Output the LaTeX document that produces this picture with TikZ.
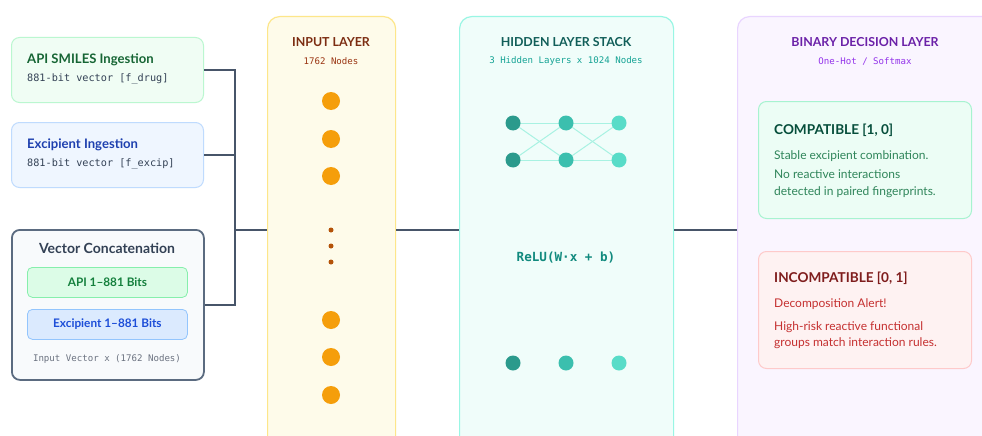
\documentclass[tikz,border=0pt]{standalone}
\usepackage{fontspec}
\setmainfont{Lato}
\setmonofont{DejaVu Sans Mono}
\usetikzlibrary{positioning}

\definecolor{apiFill}{HTML}{F0FDF4}
\definecolor{apiLine}{HTML}{BBF7D0}
\definecolor{apiText}{HTML}{166534}
\definecolor{excFill}{HTML}{EFF6FF}
\definecolor{excLine}{HTML}{BFDBFE}
\definecolor{excText}{HTML}{1E40AF}
\definecolor{catFill}{HTML}{F8FAFC}
\definecolor{catLine}{HTML}{5B6B80}
\definecolor{catText}{HTML}{334155}
\definecolor{catNote}{HTML}{6B7280}
\definecolor{inApiFill}{HTML}{DCFCE7}
\definecolor{inApiLine}{HTML}{86EFAC}
\definecolor{inApiText}{HTML}{15803D}
\definecolor{inExcFill}{HTML}{DBEAFE}
\definecolor{inExcLine}{HTML}{93C5FD}
\definecolor{inExcText}{HTML}{1D4ED8}
\definecolor{wire}{HTML}{475569}
\definecolor{inputFill}{HTML}{FEFBEA}
\definecolor{inputLine}{HTML}{FDE68A}
\definecolor{inputTitle}{HTML}{7C2D12}
\definecolor{inputSub}{HTML}{9A3412}
\definecolor{orangeDot}{HTML}{F59E0B}
\definecolor{brownDot}{HTML}{B45309}
\definecolor{hidFill}{HTML}{F0FDFA}
\definecolor{hidLine}{HTML}{99F6E4}
\definecolor{hidTitle}{HTML}{115E59}
\definecolor{hidSub}{HTML}{14A394}
\definecolor{hidA}{HTML}{2B9A8C}
\definecolor{hidB}{HTML}{3BBFAE}
\definecolor{hidC}{HTML}{58DCC8}
\definecolor{hidEdge}{HTML}{A8F2E2}
\definecolor{decFill}{HTML}{FAF5FF}
\definecolor{decLine}{HTML}{E9D5FF}
\definecolor{decTitle}{HTML}{6B21A8}
\definecolor{decSub}{HTML}{9333EA}
\definecolor{compFill}{HTML}{ECFDF5}
\definecolor{compLine}{HTML}{A7F3D0}
\definecolor{compTitle}{HTML}{064E3B}
\definecolor{compText}{HTML}{2F855A}
\definecolor{incFill}{HTML}{FEF2F2}
\definecolor{incLine}{HTML}{FECACA}
\definecolor{incTitle}{HTML}{7F1D1D}
\definecolor{incText}{HTML}{C53030}

\begin{document}
\begin{tikzpicture}[x=1pt, y=-1pt,
    srcbox/.style={rectangle, rounded corners=8pt, line width=1pt,
        minimum width=192pt, minimum height=65pt, anchor=north west},
    bitbox/.style={rectangle, rounded corners=5pt, line width=0.8pt,
        minimum width=160pt, minimum height=30pt, anchor=north west,
        font=\fontsize{11.8}{14}\selectfont\bfseries},
    layer/.style={rectangle, rounded corners=12pt, line width=1.2pt,
        minimum height=440pt, anchor=north west},
    result/.style={rectangle, rounded corners=8pt, line width=1pt,
        minimum width=213pt, minimum height=117pt, anchor=north west},
    boxtitle/.style={anchor=west, inner sep=0pt, font=\fontsize{13.1}{15}\selectfont\bfseries},
    monosub/.style={anchor=west, inner sep=0pt, font=\fontsize{10.2}{12}\ttfamily},
    coltitle/.style={inner sep=0pt, font=\fontsize{12.4}{14}\selectfont\bfseries},
    colsub/.style={inner sep=0pt, font=\fontsize{9.1}{11}\ttfamily},
    bodytext/.style={anchor=west, inner sep=0pt, text height=8.5pt, text depth=2.5pt,
        font=\fontsize{12}{14}\selectfont},
    neuron/.style={circle, inner sep=0pt, minimum size=18pt, fill=orangeDot},
    smalldot/.style={circle, inner sep=0pt, minimum size=5pt, fill=brownDot},
    hnode/.style={circle, inner sep=0pt, minimum size=15pt},
    wireline/.style={draw=wire, line width=1.5pt}
]
\clip (0,0) rectangle (982,436);
\fill[white] (0,0) rectangle (982,436);

% source boxes
\node (ApiBox) [srcbox, fill=apiFill, draw=apiLine] at (11,37) {};
\node (ApiTitle) [boxtitle, text=apiText] at (27,60) {API SMILES Ingestion};
\node (ApiSub) [monosub, text=catText] at (27,79) {881-bit vector [f\_drug]};

\node (ExcipBox) [srcbox, fill=excFill, draw=excLine] at (11,122) {};
\node (ExcipTitle) [boxtitle, text=excText] at (27,145) {Excipient Ingestion};
\node (ExcipSub) [monosub, text=catText] at (27,164) {881-bit vector [f\_excip]};

\node (Concat) [srcbox, minimum height=150pt, fill=catFill, draw=catLine, line width=1.8pt] at (11,229) {};
\node (ConcatTitle) [inner sep=0pt, font=\fontsize{14}{16}\selectfont\bfseries, text=catText] at (107,248) {Vector Concatenation};
\node (ConcatApi) [bitbox, fill=inApiFill, draw=inApiLine, text=inApiText] at (27,267) {API 1--881 Bits};
\node (ConcatExcip) [bitbox, fill=inExcFill, draw=inExcLine, text=inExcText] at (27,309) {Excipient 1--881 Bits};
\node (ConcatNote) [colsub, text=catNote] at (107,359) {Input Vector x (1762 Nodes)};

% input layer
\node (InputLayer) [layer, minimum width=128pt, fill=inputFill, draw=inputLine] at (267,16) {};
\node (InputTitle) [coltitle, text=inputTitle] at (331,42) {INPUT LAYER};
\node (InputSub) [colsub, text=inputSub] at (331,61) {1762 Nodes};
\foreach \y [count=\i] in {101,139,176,320,357,395}
  \node (In\i) [neuron] at (331,\y) {};
\foreach \y [count=\i] in {230,246,262}
  \node (Dot\i) [smalldot] at (331,\y) {};

% hidden layer stack
\node (Hidden) [layer, minimum width=214pt, fill=hidFill, draw=hidLine] at (459,16) {};
\node (HiddenTitle) [coltitle, text=hidTitle] at (566,42) {HIDDEN LAYER STACK};
\node (HiddenSub) [colsub, text=hidSub] at (566,61) {3 Hidden Layers x 1024 Nodes};
\foreach \p/\q in {513/566,566/619}
  \foreach \s in {123,160}
    \foreach \t in {123,160}
      \draw[hidEdge, line width=1pt] (\p,\s) -- (\q,\t);
\foreach \x/\c [count=\i] in {513/hidA,566/hidB,619/hidC} {
  \node (H\i a) [hnode, fill=\c] at (\x,123) {};
  \node (H\i b) [hnode, fill=\c] at (\x,160) {};
  \node (H\i c) [hnode, fill=\c] at (\x,363) {};
}
\node (Relu) [inner sep=0pt, font=\fontsize{12.6}{14}\ttfamily\bfseries, text=hidSub!85!black] at (566,258) {ReLU(W·x + b)};

% binary decision layer
\node (Decision) [layer, minimum width=280pt, fill=decFill, draw=decLine] at (737,16) {};
\node (DecisionTitle) [coltitle, text=decTitle] at (865,42) {BINARY DECISION LAYER};
\node (DecisionSub) [colsub, text=decSub] at (865,61) {One-Hot / Softmax};

\node (Compatible) [result, fill=compFill, draw=compLine] at (758,101) {};
\node (CompatibleTitle) [boxtitle, font=\fontsize{13.6}{15}\selectfont\bfseries, text=compTitle] at (774,130) {COMPATIBLE [1, 0]};
\node (CompatibleBody) [bodytext, text=compText] at (774,156) {Stable excipient combination.};
\node (CompatibleNoteA) [bodytext, text=compText] at (774,175) {No reactive interactions};
\node (CompatibleNoteB) [bodytext, text=compText] at (774,192) {detected in paired fingerprints.};

\node (Incompatible) [result, fill=incFill, draw=incLine] at (758,251) {};
\node (IncompatibleTitle) [boxtitle, font=\fontsize{13.6}{15}\selectfont\bfseries, text=incTitle] at (774,278) {INCOMPATIBLE [0, 1]};
\node (IncompatibleBody) [bodytext, text=incText] at (774,304) {Decomposition Alert!};
\node (IncompatibleNoteA) [bodytext, text=incText] at (774,327) {High-risk reactive functional};
\node (IncompatibleNoteB) [bodytext, text=incText] at (774,343) {groups match interaction rules.};

% connectors
\coordinate (Junction) at (235,230);
\draw[wireline] (ApiBox.east) -| (Junction);
\draw[wireline] (ExcipBox.east) -| (Junction);
\draw[wireline] (Concat.east) -| (Junction);
\draw[wireline] (Junction) -- (Junction -| InputLayer.west);
\draw[wireline] (Junction -| InputLayer.east) -- (Junction -| Hidden.west);
\draw[wireline] (Junction -| Hidden.east) -- (Junction -| Decision.west);
\end{tikzpicture}
\end{document}
